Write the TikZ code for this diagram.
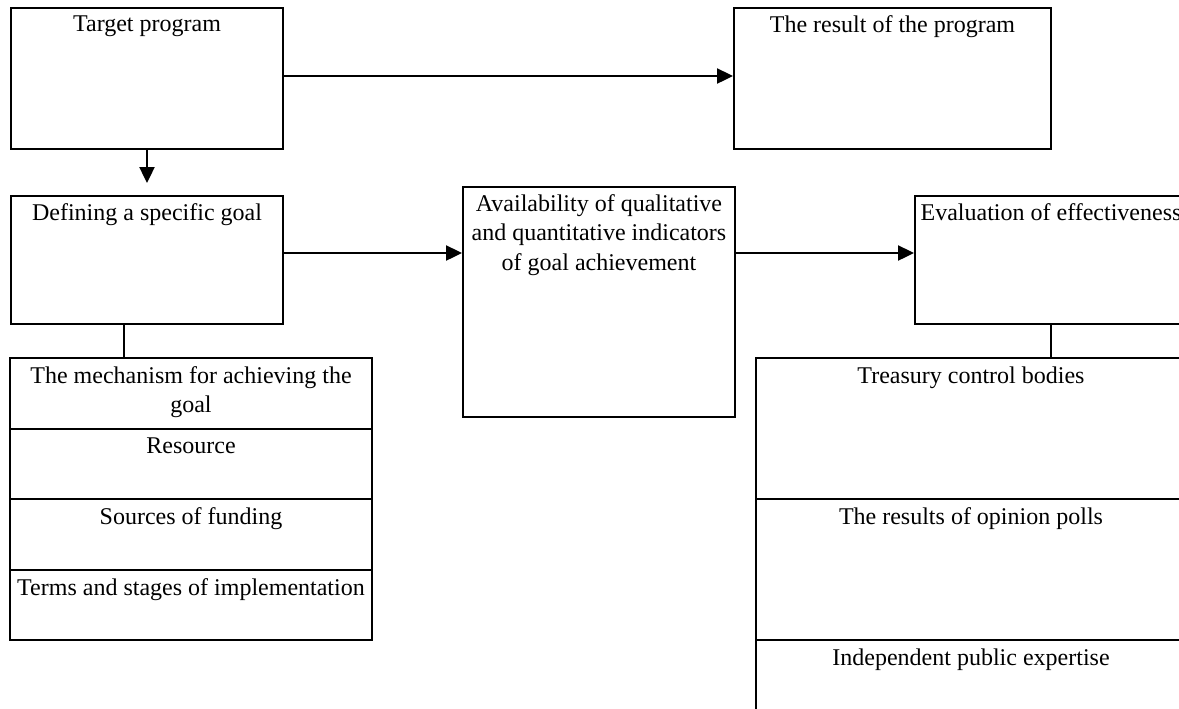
\documentclass[tikz,border=0pt]{standalone}
\usepackage{fontspec}
\setmainfont{Liberation Serif}
\usetikzlibrary{positioning,arrows.meta}
\tikzstyle{box} = [rectangle, draw=black, line width=1pt, anchor=north west, inner sep=0pt]
\tikzstyle{cell} = [rectangle, draw=black, line width=0.8pt, inner sep=0pt, outer sep=0pt]
\tikzstyle{txt} = [anchor=north, inner sep=0pt, yshift=-4pt, align=center, font=\fontsize{12}{14.8}\selectfont]
\tikzstyle{arrow} = [line width=1.2pt, -{Triangle[length=8pt,width=7.5pt]}]
\tikzstyle{link} = [line width=1pt]

\begin{document}
\begin{tikzpicture}[x=1pt, y=-1pt]
        \clip (0,0) rectangle (589.5,354);
        \node (target) [box, minimum width=136pt, minimum height=70.5pt, label={[txt]north:Target program}] at (5,3.5) {};
        \node (result) [box, minimum width=158.5pt, minimum height=70.5pt, label={[txt]north:The result of the program}] at (366.5,3.5) {};
        \node (goal) [box, minimum width=136pt, minimum height=64pt, label={[txt]north:Defining a specific goal}] at (5,97.5) {};
        \node (indic) [box, minimum width=136pt, minimum height=115pt, label={[txt]north:{Availability of qualitative\\and quantitative indicators\\of goal achievement}}] at (231,93) {};
        \node (evalbox) [box, minimum width=136pt, minimum height=64pt, label={[txt]north:Evaluation of effectiveness}] at (457,97.5) {};

        % left stack
        \node (mech) [cell, anchor=north west, minimum width=181pt, minimum height=35.5pt, label={[txt]north:{The mechanism for achieving the\\goal}}] at (5,179) {};
        \node (res) [cell, below=0pt of mech, minimum width=181pt, minimum height=35pt, label={[txt]north:Resource}] {};
        \node (fund) [cell, below=0pt of res, minimum width=181pt, minimum height=35.5pt, label={[txt]north:Sources of funding}] {};
        \node (terms) [cell, below=0pt of fund, minimum width=181pt, minimum height=35pt, label={[txt]north:Terms and stages of implementation}] {};

        % right stack
        \node (treas) [cell, anchor=north west, minimum width=215pt, minimum height=70.5pt, label={[txt]north:Treasury control bodies}] at (378,179) {};
        \node (polls) [cell, below=0pt of treas, minimum width=215pt, minimum height=70.5pt, label={[txt]north:The results of opinion polls}] {};
        \node (expert) [cell, below=0pt of polls, minimum width=215pt, minimum height=70.5pt, label={[txt]north:Independent public expertise}] {};

            % Add arrows connecting the nodes
        \coordinate (tgtend) at ([yshift=-16.5pt]target.south);
        \draw [arrow] ([yshift=1.25pt]target.east) -- ([yshift=1.25pt]result.west);
        \draw [arrow] (target.south) -- (tgtend);
        \draw [arrow] ([yshift=3.5pt]goal.east) -- ([yshift=3.5pt]goal.east -| indic.west);
        \draw [arrow] ([yshift=3.5pt]evalbox.west -| indic.east) -- ([yshift=3.5pt]evalbox.west);
        \draw [link] ([xshift=-11.5pt]goal.south) -- ([xshift=-11.5pt]goal.south |- mech.north);
        \draw [link] (evalbox.south) -- (evalbox.south |- treas.north);
    \end{tikzpicture}
\end{document}
